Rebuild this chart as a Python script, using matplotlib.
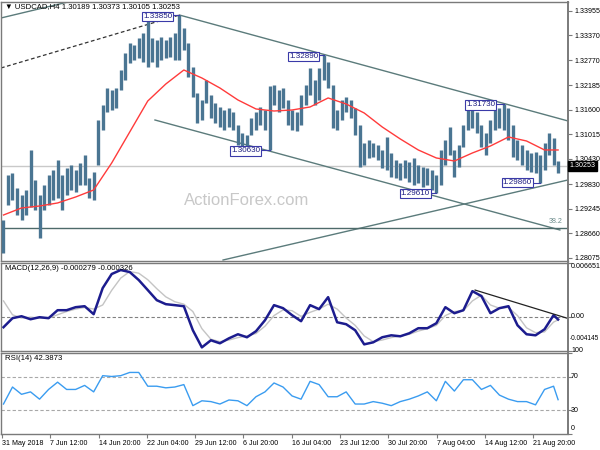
import matplotlib

matplotlib.use("Agg")
import matplotlib.pyplot as plt
import numpy as np

plt.rcParams["font.family"] = ["Liberation Sans", "DejaVu Sans"]

# USDCAD H4, each entry groups about three 4h bars
highs = [
    1.2898, 1.3005, 1.3009, 1.2974, 1.2957, 1.2969, 1.3064, 1.2993, 1.2957, 1.2981,
    1.3005, 1.3017, 1.3040, 1.3005, 1.3021, 1.3028, 1.3017, 1.3033, 1.3052, 1.2998,
    1.3012, 1.3135, 1.3171, 1.3212, 1.3207, 1.3212, 1.3254, 1.3295, 1.3319, 1.3314,
    1.3331, 1.3342, 1.3385, 1.3331, 1.3326, 1.3333, 1.3326, 1.3333, 1.3342, 1.3385,
    1.3354, 1.3319, 1.3262, 1.3200, 1.3183, 1.3231, 1.3195, 1.3176, 1.3166, 1.3159,
    1.3164, 1.3154, 1.3123, 1.3104, 1.3100, 1.3140, 1.3154, 1.3166, 1.3159, 1.3216,
    1.3219, 1.3207, 1.3212, 1.3183, 1.3159, 1.3154, 1.3195, 1.3219, 1.3259, 1.3231,
    1.3259, 1.3289, 1.3273, 1.3219, 1.3159, 1.3183, 1.3190, 1.3183, 1.3164, 1.3123,
    1.3081, 1.3088, 1.3081, 1.3076, 1.3064, 1.3095, 1.3057, 1.3040, 1.3033, 1.3040,
    1.3036, 1.3045, 1.3028, 1.3024, 1.3021, 1.3017, 1.3005, 1.3064, 1.3088, 1.3119,
    1.3064, 1.3076, 1.3123, 1.3159, 1.3169, 1.3154, 1.3123, 1.3104, 1.3135, 1.3159,
    1.3164, 1.3173, 1.3164, 1.3123, 1.3088, 1.3076, 1.3064, 1.3057, 1.3059, 1.3052,
    1.3081, 1.3104, 1.3093, 1.30373,
]
lows = [
    1.2819, 1.2933, 1.2945, 1.2910, 1.2898, 1.2910, 1.2929, 1.2922, 1.2855, 1.2922,
    1.2933, 1.2945, 1.2950, 1.2922, 1.2957, 1.2969, 1.2964, 1.2981, 1.2981, 1.2950,
    1.2945, 1.3028, 1.3112, 1.3154, 1.3159, 1.3164, 1.3207, 1.3231, 1.3271, 1.3278,
    1.3283, 1.3273, 1.3262, 1.3273, 1.3262, 1.3278, 1.3283, 1.3285, 1.3278, 1.3278,
    1.3302, 1.3238, 1.3190, 1.3128, 1.3135, 1.3176, 1.3140, 1.3128, 1.3119, 1.3112,
    1.3119, 1.3112, 1.3076, 1.3071, 1.3066, 1.3100, 1.3112, 1.3123, 1.3112, 1.3063,
    1.3171, 1.3154, 1.3164, 1.3123, 1.3112, 1.3109, 1.3123, 1.3171, 1.3195, 1.3171,
    1.3183, 1.3231, 1.3212, 1.3116, 1.3112, 1.3135, 1.3154, 1.3140, 1.3100, 1.3024,
    1.3028, 1.3045, 1.3047, 1.3040, 1.3021, 1.3017, 1.3000, 1.2997, 1.2993, 1.2997,
    1.2988, 1.2981, 1.2985, 1.2976, 1.2981, 1.2969, 1.2961, 1.2981, 1.3028, 1.3052,
    1.3000, 1.3024, 1.3071, 1.3112, 1.3116, 1.3104, 1.3071, 1.3052, 1.3081, 1.3112,
    1.3116, 1.3112, 1.3088, 1.3047, 1.3040, 1.3028, 1.3017, 1.3012, 1.3009, 1.2986,
    1.3017, 1.3052, 1.3028, 1.30105,
]
last_close = 1.30253

# moving average, one value every 4 groups (plus the last one)
ma_values = [
    1.29096, 1.29263, 1.29310, 1.29382, 1.29524, 1.29691, 1.30333, 1.31070,
    1.31807, 1.32211, 1.32544, 1.32354, 1.32116, 1.31831, 1.31617, 1.31569,
    1.31593, 1.31665, 1.31879, 1.31736, 1.31522, 1.31189, 1.30904, 1.30642,
    1.30452, 1.30380, 1.30571, 1.30737, 1.30951, 1.30856, 1.30642, 1.30642,
]

# indicators, one value every 2 groups (plus the last one)
macd_main = [
    -0.00123, -0.00012, 0.00012, -0.00025, 0.0, -0.00012, 0.00086, 0.00086, 0.00123, 0.00135,
    0.00037, 0.00357, 0.0053, 0.00579, 0.00554, 0.00456, 0.00333, 0.00209, 0.0016, 0.00148,
    0.00135, -0.0016, -0.0037, -0.00283, -0.0032, -0.00259, -0.00209, -0.00246, -0.00172, -0.00037,
    0.00148, 0.00111, 0.00025, -0.00049, 0.00148, 0.00099, 0.00246, -0.00062, -0.00086, -0.0016,
    -0.00333, -0.00308, -0.00246, -0.00222, -0.00234, -0.00197, -0.00135, -0.00135, -0.00074, 0.00123,
    0.00049, 0.00086, 0.0032, 0.00259, 0.00049, 0.00111, 0.00135, -0.00099, -0.00209, -0.00222,
    -0.00148, 0.00025, -0.000279,
]
macd_signal = [
    0.0020, 0.0003, -0.0001, 0.0000, -0.0001, -0.0001, 0.0003, 0.0007, 0.0010, 0.0012,
    0.0010, 0.0015, 0.0033, 0.0048, 0.0056, 0.0054, 0.0046, 0.0035, 0.0025, 0.0019,
    0.0016, 0.0007, -0.0014, -0.0027, -0.0030, -0.0028, -0.0025, -0.0023, -0.0020, -0.0011,
    0.0002, 0.0009, 0.0008, 0.0001, 0.0006, 0.0010, 0.0016, 0.0010, -0.0001, -0.0010,
    -0.0023, -0.0030, -0.0028, -0.0025, -0.0023, -0.0021, -0.0017, -0.0014, -0.0010, 0.0002,
    0.0007, 0.0008, 0.0020, 0.0027, 0.0015, 0.0011, 0.0012, 0.0002, -0.0013, -0.0019,
    -0.0018, -0.0006, -0.000326,
]
rsi_values = [
    37, 58, 49, 52, 43, 55, 64, 55, 55, 60,
    52, 72, 71, 72, 76, 76, 59, 59, 57, 58,
    61, 35, 41, 40, 37, 42, 41, 35, 46, 52,
    63, 58, 47, 43, 65, 61, 46, 46, 52, 37,
    37, 40, 38, 35, 40, 43, 47, 52, 41, 65,
    53, 67, 67, 55, 60, 48, 43, 40, 40, 36,
    55, 59, 42.3873,
]

price_ticks = [1.33955, 1.33370, 1.32770, 1.32185, 1.31600, 1.31015,
               1.30430, 1.29830, 1.29245, 1.28660, 1.28075]
date_labels = ["31 May 2018", "7 Jun 12:00", "14 Jun 20:00", "22 Jun 04:00",
               "29 Jun 12:00", "6 Jul 20:00", "16 Jul 04:00", "23 Jul 12:00",
               "30 Jul 20:00", "7 Aug 04:00", "14 Aug 12:00", "21 Aug 20:00"]

# swing labels: (box right edge, text level, text, bar index, bar price)
swing_labels = [
    (37.4, 1.33817, "1.33850", 39, 1.33850),
    (69.8, 1.32865, "1.32890", 71, 1.32890),
    (56.9, 1.30618, "1.30630", 59, 1.30630),
    (94.6, 1.29608, "1.29610", 96, 1.29610),
    (109.0, 1.31712, "1.31730", 111, 1.31730),
    (117.2, 1.29869, "1.29860", 119, 1.29860),
]
# trend lines: ((x0, y0), (x1, y1))
trend_lines = [
    ((-0.55, 1.33781), (14.3, 1.34161)),
    ((39, 1.33852), (125.2, 1.31332)),
    ((33.6, 1.31355), (123.4, 1.28740)),
    ((48.7, 1.28026), (125.2, 1.29929)),
]
dashed_line = ((-0.55, 1.32592), (39, 1.33850))
fibo_382 = 1.28789
macd_trend = ((104.6, 0.00333), (125.0, -0.00012))

W, H = 600, 450
fig = plt.figure(figsize=(6, 4.5), dpi=100)


def box(top, bottom, left=1, right=568):
    return [left / W, 1 - bottom / H, (right - left) / W, (bottom - top) / H]


ax = fig.add_axes(box(2, 261))
ax_macd = fig.add_axes(box(263, 351), sharex=ax)
ax_rsi = fig.add_axes(box(353, 434), sharex=ax)

fs = 5.1
frame = "#7a7a7a"
line_col = "#5b7b7b"
for a in (ax, ax_macd, ax_rsi):
    for s in a.spines.values():
        s.set_color(frame)
        s.set_linewidth(1.0)
    a.spines["right"].set_linewidth(1.4)
    a.yaxis.tick_right()
    a.tick_params(axis="y", length=3, color=frame, labelsize=fs, pad=1.5)
    a.tick_params(axis="x", bottom=False, labelbottom=False)

# price panel
k = np.arange(len(highs))
ax.axhline(last_close, color="#c9c9c9", lw=1, zorder=1)
ax.text(54, 1.2945, "ActionForex.com", fontsize=12, color="#c8c8c8",
        ha="center", va="center", zorder=0)
ax.vlines(k, lows, highs, color="#4a7592", lw=2.4, zorder=3)
ma_x = np.r_[np.arange(0, 121, 4), k[-1]]
ax.plot(ma_x, ma_values, color="#ff3b3b", lw=1.0, zorder=4)

for (x0, y0), (x1, y1) in trend_lines:
    ax.plot([x0, x1], [y0, y1], color=line_col, lw=1.0, zorder=2)
ax.plot([dashed_line[0][0], dashed_line[1][0]], [dashed_line[0][1], dashed_line[1][1]],
        color="#333333", lw=0.9, ls=(0, (3, 2)), zorder=2)
ax.axhline(fibo_382, color="#4d6a6a", lw=1.0, zorder=2)
ax.text(124.0, fibo_382 + 0.0006, "38.2", fontsize=fs, color="#6a8a8a",
        ha="right", va="bottom")

for xr, yt, txt, xb, yb in swing_labels:
    ax.plot([xr, xb], [yb, yb], color="#3a3aa8", lw=0.8, zorder=5)
    ax.text(xr, yt, txt, fontsize=5.8, color="#1c1c80", ha="right", va="center", zorder=6,
            bbox=dict(boxstyle="square,pad=0.15", fc="white", ec="#3a3aa8", lw=0.8))

ax.set_xlim(-0.55, 125.2)
ax.set_ylim(1.28002, 1.34161)
ax.set_yticks(price_ticks)
ax.set_yticklabels([f"{v:.5f}" for v in price_ticks])

fig.text(5 / W, 1 - 7 / H, "\u25bc USDCAD,H4 1.30189 1.30373 1.30105 1.30253",
         fontsize=5.6, ha="left", va="center")
fig.text(569.5 / W, 1 - 166 / H, f"{last_close:.5f}", fontsize=fs, color="white",
         ha="left", va="center",
         bbox=dict(boxstyle="square,pad=0.2", fc="black", ec="black"))

# MACD panel
ind_x = np.r_[np.arange(0, 123, 2), k[-1]]
ax_macd.axhline(0, color="#808080", lw=0.8, ls=(0, (3, 2)))
ax_macd.plot(ind_x, macd_signal, color="#c4c4c4", lw=1.0)
ax_macd.plot(ind_x, macd_main, color="#1c1c8e", lw=1.8)
ax_macd.plot([macd_trend[0][0], macd_trend[1][0]], [macd_trend[0][1], macd_trend[1][1]],
             color="#222222", lw=0.9)
ax_macd.set_ylim(-0.004145, 0.006651)
ax_macd.set_yticks([0.006651, 0.0, -0.004145])
ax_macd.set_yticklabels([])
fig.text(5 / W, 1 - 268 / H, "MACD(12,26,9) -0.000279 -0.000326", fontsize=5.6,
         ha="left", va="center")
for txt, ypx in (("0.006651", 267), ("0.00", 317)):
    fig.text(571 / W, 1 - ypx / H, txt, fontsize=fs, ha="left", va="center")
fig.text(599 / W, 1 - 339 / H, "-0.004145", fontsize=4.7, ha="right", va="center")

# RSI panel
for lvl in (70, 30):
    ax_rsi.axhline(lvl, color="#a8a8a8", lw=0.8, ls=(0, (3, 2)))
ax_rsi.plot(ind_x, rsi_values, color="#3a9cf0", lw=1.0)
ax_rsi.set_ylim(0, 100)
ax_rsi.set_yticks([100, 70, 30, 0])
ax_rsi.set_yticklabels([])
fig.text(5 / W, 1 - 359 / H, "RSI(14) 42.3873", fontsize=5.6, ha="left", va="center")
for txt, ypx in (("100", 351), ("70", 377), ("30", 410), ("0", 429)):
    fig.text(571 / W, 1 - ypx / H, txt, fontsize=fs, ha="left", va="center")

date_pos = np.arange(len(date_labels)) * 10.71 - 0.33
ax_rsi.tick_params(axis="x", bottom=True, labelbottom=True, length=3, color=frame,
                   labelsize=fs, pad=1.5)
ax_rsi.set_xticks(date_pos)
ax_rsi.set_xticklabels(date_labels, ha="left")

fig.savefig("out.png", dpi=100, facecolor="white")
